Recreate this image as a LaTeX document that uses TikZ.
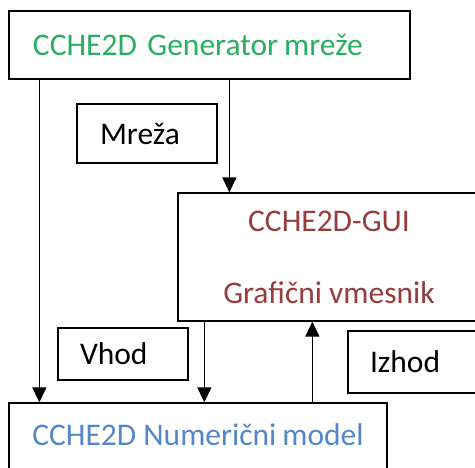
\documentclass[tikz,border=0pt]{standalone}
\usepackage{fontspec}
\setmainfont{Carlito}
\usetikzlibrary{arrows.meta, positioning}
\usepackage{xcolor}
\definecolor{gengreen}{RGB}{40,175,95}
\definecolor{guibrown}{RGB}{150,60,60}
\definecolor{numblue}{RGB}{85,135,200}

\begin{document}
\begin{tikzpicture}[
    x=1pt, y=1pt,
    box/.style={rectangle, draw, line width=1.3pt, inner sep=0pt, font=\fontsize{31.5}{36}\selectfont},
    leftbox/.style={box, align=left, inner xsep=#1},
    arrow/.style={line width=1.5pt, -{Triangle[length=15pt, width=14pt]}}
]
\clip (0,0) rectangle (475,-468);

\node[leftbox=24pt, text width=353pt, minimum height=68pt, text=gengreen] (gen) at (209.5,-45) {\mbox{CCHE2D Generator\hspace{6pt}mreže}};
\node[leftbox=23pt, text width=94pt, minimum height=59pt] (mreza) at (147,-133.5) {Mreža};
\node[box, minimum width=302pt, minimum height=128pt, align=center, text=guibrown] (gui) at (329,-257) {CCHE2D-GUI\\[36pt]Grafični vmesnik};
\node[leftbox=22pt, text width=86pt, minimum height=52pt] (vhod) at (123,-354) {Vhod};
\node[leftbox=22pt, text width=98pt, minimum height=62pt] (izhod) at (419,-362) {Izhod};
\node[box, minimum width=378pt, minimum height=69pt, text depth=6pt, text=numblue] (num) at (198,-437.5) {CCHE2D Numerični\hspace{6pt}model};

\draw[arrow] ([xshift=31pt]gen.south west) -- ([xshift=31pt]num.north west);
\draw[arrow] ([xshift=52pt]gui.north west |- gen.south) -- ([xshift=52pt]gui.north west);
\draw[arrow] ([xshift=27pt]gui.south west) -- ([xshift=27pt]gui.south west |- num.north);
\draw[arrow] ([xshift=135pt]gui.south west |- num.north) -- ([xshift=135pt]gui.south west);

\end{tikzpicture}
\end{document}
